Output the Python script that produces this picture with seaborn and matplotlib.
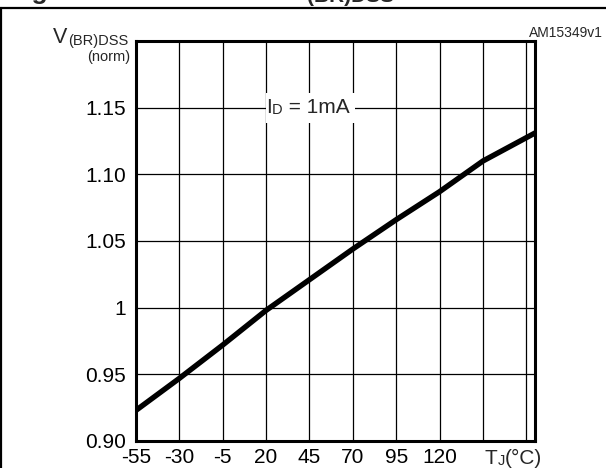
import matplotlib
matplotlib.use("Agg")
import matplotlib.pyplot as plt
import seaborn as sns
import pandas as pd
from matplotlib.lines import Line2D

# data
temp = [-55, -30, -5, 20, 45, 70, 95, 120, 145, 175]
vbr_norm = [0.923, 0.947, 0.972, 0.998, 1.021, 1.044, 1.066, 1.087, 1.110, 1.131]

x_ticks = [-55, -30, -5, 20, 45, 70, 95, 120, 145, 170]
x_labels = ["-55", "-30", "-5", "20", "45", "70", "95", "120", "", ""]
y_ticks = [0.90, 0.95, 1.00, 1.05, 1.10, 1.15, 1.20]
y_labels = ["0.90", "0.95", "1", "1.05", "1.10", "1.15", ""]

df = pd.DataFrame({"Tj": temp, "V": vbr_norm})

sns.set_theme(style="white")
plt.rcParams["font.family"] = ["Liberation Sans", "DejaVu Sans"]

W, H = 606, 468
fig = plt.figure(figsize=(W / 100, H / 100), dpi=100)
ax = fig.add_axes([136 / W, 27 / H, 399 / W, 400 / H])

sns.lineplot(data=df, x="Tj", y="V", color="black", linewidth=3.9, ax=ax, zorder=3)

ax.set_xlim(-55, 175)
ax.set_ylim(0.90, 1.20)
ax.set_xticks(x_ticks)
ax.set_xticklabels(x_labels)
ax.set_yticks(y_ticks)
ax.set_yticklabels(y_labels)
ax.tick_params(axis="both", length=0, labelsize=15, colors="black")
ax.tick_params(axis="x", pad=5)
ax.tick_params(axis="y", pad=7)
ax.set_xlabel("")
ax.set_ylabel("")
ax.grid(True, color="black", linewidth=0.9)
for s in ax.spines.values():
    s.set_visible(True)
    s.set_color("black")
    s.set_linewidth(2.2)
    s.set_zorder(4)

# x-axis label T_J(°C), on the tick label baseline
t1 = ax.text(146, -0.058, "T", fontsize=15, ha="left", va="baseline",
             transform=ax.get_xaxis_transform())
t2 = ax.annotate("J", xy=(1, 0), xycoords=t1, ha="left", va="bottom", fontsize=10.5)
ax.annotate("(°C)", xy=(1, 0), xycoords=t2, ha="left", va="bottom", fontsize=15)

# y-axis label V_(BR)DSS (norm)
s1 = fig.text(128 / W, 1 - 45 / H, "(BR)DSS", fontsize=10.5, ha="right", va="baseline")
fig.text(130 / W, 1 - 61 / H, "(norm)", fontsize=10.5, ha="right", va="baseline")
ax.annotate("V", xy=(0, 0), xycoords=s1, ha="right", va="bottom", fontsize=15.5)

# condition label with white background
ax.text(45.5, 1.15, "I  = 1mA", fontsize=15, color="none", ha="center", va="center",
        bbox=dict(facecolor="white", edgecolor="none", pad=4), zorder=5)
i1 = ax.text(20.2, 1.15, "I", fontsize=15, ha="left", va="center", zorder=6)
i2 = ax.annotate("D", xy=(1, 0), xycoords=i1, ha="left", va="bottom", fontsize=10.5, zorder=6)
ax.annotate(" = 1mA", xy=(1, 0), xycoords=i2, ha="left", va="bottom", fontsize=15, zorder=6)

fig.text(603 / W, 1 - 37 / H, "AM15349v1", fontsize=10, ha="right", va="baseline")

# cropped caption above the frame (only glyph bottoms show)
fig.text(307 / W, 1 + 1.5 / H, "Figure 10. Normalized V", fontsize=19, fontweight="bold",
         ha="right", va="baseline")
fig.text(307 / W, 1 - 2.5 / H, "(BR)DSS", fontsize=15, fontweight="bold",
         ha="left", va="baseline")
fig.text(522 / W, 1 + 1.5 / H, " vs temperature", fontsize=19, fontweight="bold",
         ha="left", va="baseline")

# outer frame
fig.add_artist(Line2D([0, 1], [1 - 8 / H, 1 - 8 / H], color="black", linewidth=1.6,
                      transform=fig.transFigure))
fig.add_artist(Line2D([1.2 / W, 1.2 / W], [0, 1 - 8 / H], color="black", linewidth=1.6,
                      transform=fig.transFigure))

fig.savefig("out.png", dpi=100)
